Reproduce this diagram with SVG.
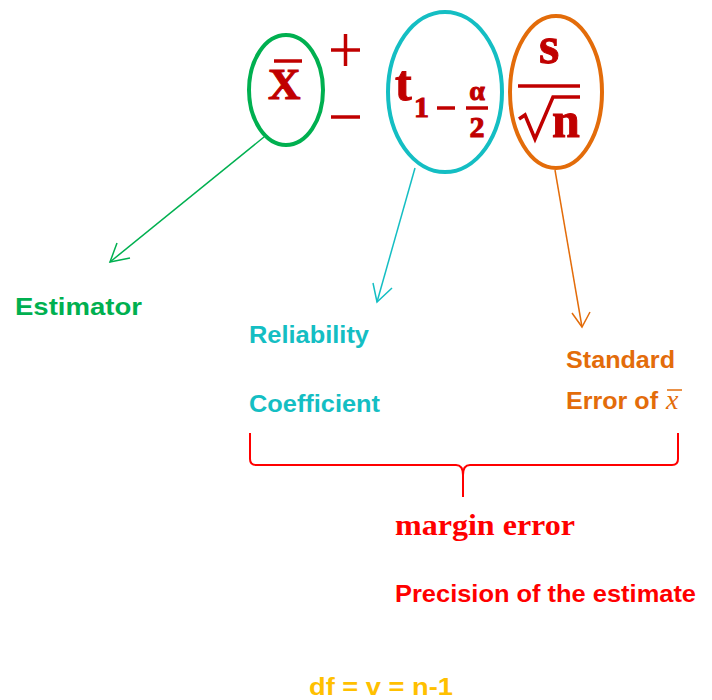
<svg xmlns="http://www.w3.org/2000/svg" width="712" height="700" viewBox="0 0 712 700">
<style>
.f{fill:#C00000;stroke:#C00000;stroke-width:1;font-family:"Liberation Serif",serif;font-weight:bold}
.s{font-family:"Liberation Sans",Arial,sans-serif;font-weight:bold;font-size:24px}
.fl{stroke:#C00000;stroke-width:3.5;fill:none}
.c{fill:none;stroke-width:1.5}
</style>
<rect width="712" height="700" fill="#fff"/>
<g id="formula">
  <text class="f" x="268" y="99" font-size="45">X</text>
  <line class="fl" x1="274" y1="61" x2="302" y2="61" stroke-width="3"/>
  <line class="fl" x1="331" y1="50" x2="360" y2="50" stroke-width="3"/>
  <line class="fl" x1="345.5" y1="34" x2="345.5" y2="66" stroke-width="3"/>
  <line class="fl" x1="331" y1="117" x2="360" y2="117" stroke-width="3"/>
  <text class="f" x="395" y="100" font-size="50">t</text>
  <text class="f" x="414" y="117" font-size="30">1</text>
  <line class="fl" x1="437" y1="108" x2="455" y2="108" stroke-width="3"/>
  <text class="f" x="477" y="100" font-size="28" text-anchor="middle">α</text>
  <line class="fl" x1="466" y1="108" x2="488" y2="108" stroke-width="3"/>
  <text class="f" x="477" y="137" font-size="30" text-anchor="middle">2</text>
  <text class="f" x="549" y="63" font-size="52" text-anchor="middle">s</text>
  <line class="fl" x1="518" y1="86" x2="580" y2="86" stroke-width="4"/>
  <path class="fl" d="M519 119 L525 115 L535 139 L553 97 L580 97" stroke-width="3"/>
  <text class="f" x="552" y="137" font-size="50">n</text>
</g>
<g id="estimator">
  <ellipse cx="286" cy="90" rx="37" ry="55" fill="none" stroke="#00B050" stroke-width="4"/>
  <text class="s" x="15" y="315" fill="#00B050" textLength="127" lengthAdjust="spacingAndGlyphs">Estimator</text>
</g>
<g id="reliability">
  <ellipse cx="445" cy="92" rx="57" ry="80" fill="none" stroke="#14BEC3" stroke-width="4"/>
  <text class="s" x="249" y="343" fill="#14BEC3" textLength="120" lengthAdjust="spacingAndGlyphs">Reliability</text>
  <text class="s" x="249" y="412" fill="#14BEC3" textLength="131" lengthAdjust="spacingAndGlyphs">Coefficient</text>
</g>
<g id="stderr">
  <ellipse cx="556" cy="92" rx="46" ry="76" fill="none" stroke="#E36C0A" stroke-width="4"/>
  <text class="s" x="566" y="368" fill="#E36C0A" textLength="109" lengthAdjust="spacingAndGlyphs">Standard</text>
  <text class="s" x="566" y="409" fill="#E36C0A" textLength="92" lengthAdjust="spacingAndGlyphs">Error of</text>
  <text x="666" y="409" fill="#E36C0A" font-family="Liberation Serif,serif" font-style="italic" font-size="28">x</text>
  <line x1="667" y1="390" x2="682" y2="390" stroke="#E36C0A" stroke-width="1.5"/>
</g>
<g id="connectors">
  <g stroke="#00B050" class="c"><line x1="264" y1="137" x2="110" y2="262"/><polyline points="117,243 110,262 130,258"/></g>
  <g stroke="#14BEC3" class="c"><line x1="415" y1="168" x2="377" y2="302"/><polyline points="373,283 377,302 392,288"/></g>
  <g stroke="#E36C0A" class="c"><line x1="555" y1="170" x2="582" y2="327"/><polyline points="572,313 582,327 590,312"/></g>
  <path d="M250 433 L250 459 Q250 465 256 465 L456 465 Q463 465 463 475 L463 497 M463 475 Q463 465 470 465 L672 465 Q678 465 678 459 L678 433" fill="none" stroke="#FF0000" stroke-width="2"/>
</g>
<g id="margin">
  <text x="395" y="535" fill="#FF0000" font-family="Liberation Serif,serif" font-weight="bold" font-size="30" textLength="180" lengthAdjust="spacingAndGlyphs">margin error</text>
  <text class="s" x="395" y="602" fill="#FF0000" textLength="301" lengthAdjust="spacingAndGlyphs">Precision of the estimate</text>
</g>
<g id="df">
  <text class="s" x="309" y="695" fill="#FFC000" textLength="144" lengthAdjust="spacingAndGlyphs">df = v = n-1</text>
</g>
</svg>
